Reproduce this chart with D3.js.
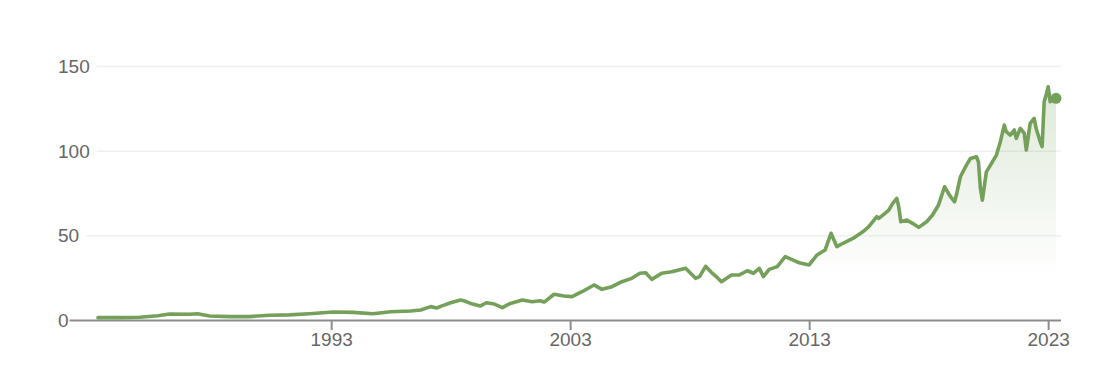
<!DOCTYPE html>
<html>
<head>
<meta charset="utf-8">
<script src="https://cdn.jsdelivr.net/npm/d3@7"></script>
<style>
  html, body { margin: 0; padding: 0; background: #fff; }
  svg { display: block; font-family: "Liberation Sans", Arial, Helvetica, sans-serif; }
</style>
</head>
<body>
<svg id="chart" width="1100" height="391"></svg>
<script>
// ---- data ----
const dates = [
  "1983-04","1984-03","1985-01","1985-10","1986-04","1987-02","1987-06","1987-12","1988-10","1989-08",
  "1990-06","1991-04","1992-02","1993-02","1993-12","1994-10","1995-07","1996-05","1996-10","1997-03",
  "1997-06","1997-09","1998-01","1998-06","1998-08","1998-12","1999-04","1999-07","1999-11","2000-03",
  "2000-07","2001-01","2001-06","2001-10","2001-12","2002-05","2002-10","2003-02","2003-07","2004-01",
  "2004-05","2004-10","2005-03","2005-08","2005-12","2006-03","2006-06","2006-11","2007-04","2007-11",
  "2008-04","2008-06","2008-09","2008-12","2009-03","2009-05","2009-10","2010-02","2010-06","2010-09",
  "2010-12","2011-02","2011-05","2011-09","2012-01","2012-05","2012-08","2013-01","2013-05","2013-09",
  "2013-12","2014-03","2014-06","2014-11","2015-04","2015-07","2015-11","2015-12","2016-04","2016-05",
  "2016-07","2016-09","2016-10","2016-11","2017-02","2017-05","2017-08","2017-12","2018-03","2018-06",
  "2018-09","2018-10","2018-12","2019-02","2019-03","2019-05","2019-08","2019-10","2020-01","2020-02",
  "2020-03","2020-04","2020-06","2020-09","2020-11","2021-01","2021-03","2021-04","2021-06","2021-08",
  "2021-09","2021-11","2022-01","2022-02","2022-04","2022-06","2022-07","2022-09","2022-10","2022-11",
  "2022-12","2023-01","2023-02","2023-04","2023-05"
];
const prices = [
  1.4, 1.4, 1.6, 2.5, 3.5, 3.4, 3.7, 2.4, 2.0, 2.0,
  2.8, 3.0, 3.7, 4.7, 4.5, 3.7, 4.9, 5.3, 5.9, 7.9,
  7.1, 8.5, 10.2, 11.8, 11.2, 9.4, 8.3, 10.2, 9.4, 7.3,
  9.8, 11.8, 10.8, 11.4, 10.6, 15.2, 14.2, 13.8, 16.7, 20.7,
  18.1, 19.7, 22.6, 24.6, 27.6, 27.9, 24.0, 27.6, 28.5, 30.5,
  24.6, 25.6, 31.7, 28.0, 25.0, 22.6, 26.6, 26.6, 29.1, 27.6,
  30.5, 25.6, 29.9, 31.5, 37.4, 35.4, 33.8, 32.5, 38.4, 41.3,
  51.2, 43.3, 45.3, 48.2, 52.1, 55.1, 61.0, 60.0, 63.9, 64.9,
  68.9, 71.8, 66.9, 58.0, 59.0, 57.1, 54.7, 58.0, 62.0, 67.9,
  78.7, 76.7, 72.8, 69.8, 73.8, 84.6, 91.5, 95.4, 96.4, 93.4,
  78.0, 70.8, 87.5, 93.4, 97.4, 105.3, 115.1, 111.2, 109.2, 112.2,
  107.3, 113.2, 110.2, 100.4, 116.1, 119.1, 113.2, 105.3, 102.4, 128.9,
  132.8, 137.7, 128.9, 131.8, 130.9
];
const xTickLabels = ["1993", "2003", "2013", "2023"];
const yTicks = [0, 50, 100, 150];

// ---- build ----
const parseMonth = d3.timeParse("%Y-%m");
const parseYear = d3.timeParse("%Y");
const data = dates.map((d, i) => ({ date: parseMonth(d), value: prices[i] }));

const svg = d3.select("#chart");
const lineColor = "#74a05a";
const textColor = "#666666";

const x = d3.scaleTime()
  .domain(d3.extent(data, d => d.date))
  .range([98, 1056]);
const y = d3.scaleLinear()
  .domain([0, 150])
  .range([320, 66]);

const axisLeftX = 58, plotRight = 1061;

// gradient for area fill
const defs = svg.append("defs");
const grad = defs.append("linearGradient")
  .attr("id", "areaGrad")
  .attr("gradientUnits", "userSpaceOnUse")
  .attr("x1", 0).attr("x2", 0)
  .attr("y1", y(140)).attr("y2", y(25));
grad.append("stop").attr("offset", "0%").attr("stop-color", lineColor).attr("stop-opacity", 0.24);
grad.append("stop").attr("offset", "100%").attr("stop-color", lineColor).attr("stop-opacity", 0);

// y axis labels + grid
const yAxisG = svg.append("g")
  .attr("transform", `translate(${axisLeftX},0)`)
  .call(d3.axisRight(y).tickValues(yTicks).tickSize(0).tickPadding(0).tickFormat(d3.format("d")));
yAxisG.select(".domain").remove();
yAxisG.selectAll("text")
  .attr("fill", textColor)
  .style("font-size", "19px")
  .attr("dy", "0.35em");
yAxisG.selectAll(".tick").each(function(d) {
  const t = d3.select(this);
  const w = t.select("text").node().getComputedTextLength();
  if (d === 0) {
    t.insert("line", "text")
      .attr("x1", w + 1).attr("x2", plotRight - axisLeftX)
      .attr("y1", 0).attr("y2", 0)
      .attr("stroke", "#8c8c8c").attr("stroke-width", 2);
  } else {
    t.insert("line", "text")
      .attr("x1", w + 7).attr("x2", plotRight - axisLeftX)
      .attr("y1", 0).attr("y2", 0)
      .attr("stroke", "#f0f0f0").attr("stroke-width", 1.5);
  }
});

// area
const area = d3.area()
  .x(d => x(d.date))
  .y0(y(0))
  .y1(d => y(d.value));
svg.append("path")
  .datum(data)
  .attr("d", area)
  .attr("fill", "url(#areaGrad)");

// x axis
const xAxisG = svg.append("g")
  .attr("transform", `translate(0,${y(0)})`)
  .call(d3.axisBottom(x)
    .tickValues(xTickLabels.map(parseYear))
    .tickSize(10)
    .tickPadding(3)
    .tickFormat(d3.timeFormat("%Y")));
xAxisG.select(".domain").remove();
xAxisG.selectAll(".tick line").attr("stroke", "#8c8c8c").attr("stroke-width", 2);
xAxisG.selectAll("text").attr("fill", textColor).style("font-size", "19px");

// line
const line = d3.line()
  .x(d => x(d.date))
  .y(d => y(d.value));
svg.append("path")
  .datum(data)
  .attr("d", line)
  .attr("fill", "none")
  .attr("stroke", lineColor)
  .attr("stroke-width", 3.6)
  .attr("stroke-linejoin", "round")
  .attr("stroke-linecap", "round");

// end dot
const last = data[data.length - 1];
svg.append("circle")
  .attr("cx", x(last.date))
  .attr("cy", y(last.value))
  .attr("r", 5.5)
  .attr("fill", lineColor);
</script>
</body>
</html>
